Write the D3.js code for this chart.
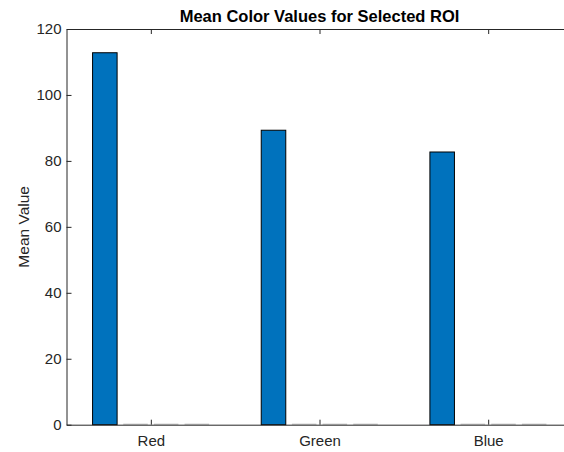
<!DOCTYPE html>
<html lang="en">
<head>
<meta charset="UTF-8">
<title>Mean Color Values for Selected ROI</title>
<script src="https://d3js.org/d3.v7.min.js"></script>
<style>
  body { margin: 0; background: #fff; }
  svg { display: block; font-family: "Liberation Sans", Arial, sans-serif; }
  .axis text { fill: #262626; font-size: 15px; }
</style>
</head>
<body>
<div id="chart"></div>
<script>
// categories and series (MATLAB-style grouped bar, only first series non-zero)
const categories = ["Red", "Green", "Blue"];
const series1 = [112.8, 89.3, 82.7];
const series2 = [0, 0, 0];
const series3 = [0, 0, 0];
const series4 = [0, 0, 0];
const yTicks = [0, 20, 40, 60, 80, 100, 120];

const W = 564, H = 452;
const plotLeft = 66.5, plotTop = 29, plotBottom = 424.7;

const svg = d3.select("#chart").append("svg")
  .attr("width", W).attr("height", H);

const x = d3.scaleLinear().domain([0.5, 3.5]).range([plotLeft, plotLeft + 3 * 168.67]);
const y = d3.scaleLinear().domain([0, 120]).range([plotBottom, plotTop]);

const allSeries = [series1, series2, series3, series4];
const nS = allSeries.length;
const groupW = Math.min(0.8, nS / (nS + 1.5));
const slot = groupW / nS;
const barW = slot * 0.8;

const bars = [];
allSeries.forEach((s, si) => {
  s.forEach((v, ci) => {
    bars.push({ pos: ci + 1 + (si - (nS - 1) / 2) * slot, value: v });
  });
});

// bars
svg.append("g").selectAll("rect")
  .data(bars.filter(d => d.value > 0))
  .join("rect")
  .attr("x", d => x(d.pos - barW / 2))
  .attr("width", d => x(d.pos + barW / 2) - x(d.pos - barW / 2))
  .attr("y", d => y(d.value))
  .attr("height", d => y(0) - y(d.value))
  .attr("fill", "#0072BD")
  .attr("stroke", "#000")
  .attr("stroke-width", 1);

// zero height bars show as faint lines on the baseline
svg.append("g").selectAll("line")
  .data(bars.filter(d => d.value === 0))
  .join("line")
  .attr("x1", d => x(d.pos - barW / 2))
  .attr("x2", d => x(d.pos + barW / 2))
  .attr("y1", y(0) - 0.5)
  .attr("y2", y(0) - 0.5)
  .attr("stroke", "#b8b8b8")
  .attr("stroke-width", 1);

// axes (ticks inside, like MATLAB)
const yAxis = svg.append("g").attr("class", "axis")
  .attr("transform", `translate(${plotLeft},0)`)
  .call(d3.axisLeft(y).tickValues(yTicks).tickSizeInner(-5).tickSizeOuter(0).tickPadding(5));
const xAxis = svg.append("g").attr("class", "axis")
  .attr("transform", `translate(0,${plotBottom})`)
  .call(d3.axisBottom(x).tickValues([1, 2, 3]).tickFormat((d, i) => categories[i])
    .tickSizeInner(-5).tickSizeOuter(0).tickPadding(11));
const xTop = svg.append("g").attr("class", "axis")
  .attr("transform", `translate(0,${plotTop})`)
  .call(d3.axisTop(x).tickValues([1, 2, 3]).tickFormat("").tickSizeInner(-5).tickSizeOuter(0));

[yAxis, xAxis, xTop].forEach(g => {
  g.selectAll("path, line").attr("stroke", "#262626");
  g.selectAll("text").attr("font-family", null).attr("font-size", null);
});

// y label
svg.append("text")
  .attr("transform", `translate(29,${(plotTop + plotBottom) / 2}) rotate(-90)`)
  .attr("text-anchor", "middle")
  .attr("fill", "#262626")
  .style("font-size", "15.5px")
  .text("Mean Value");

// title
svg.append("text")
  .attr("x", (x.range()[0] + x.range()[1]) / 2)
  .attr("y", 22)
  .attr("text-anchor", "middle")
  .attr("fill", "#000")
  .style("font-size", "16.5px")
  .style("font-weight", "bold")
  .text("Mean Color Values for Selected ROI");
</script>
</body>
</html>
